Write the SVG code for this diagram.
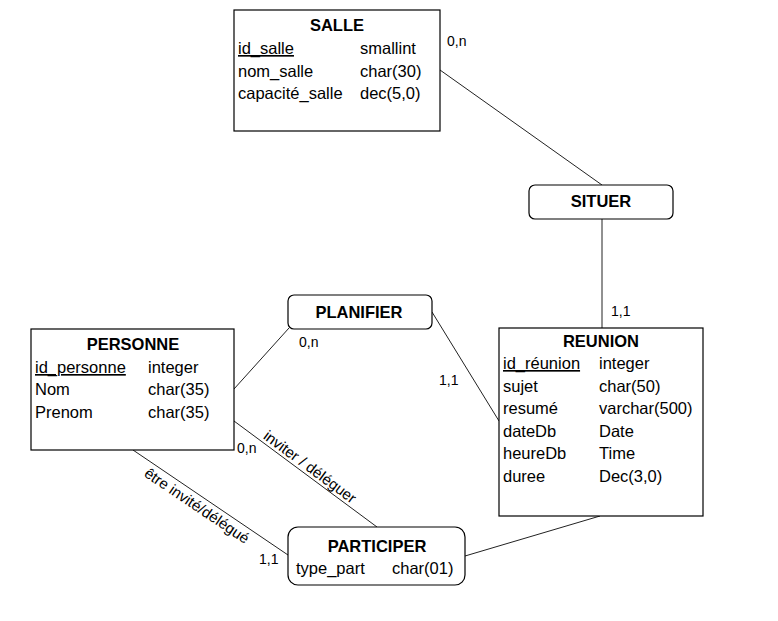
<svg xmlns="http://www.w3.org/2000/svg" width="778" height="621" viewBox="0 0 778 621">
<style>
  .box { fill: #fff; stroke: #000; stroke-width: 1.2; }
  .t { font-family: "Liberation Sans", Arial, sans-serif; font-size: 16.5px; fill: #000; }
  .h { font-family: "Liberation Sans", Arial, sans-serif; font-size: 16.5px; font-weight: bold; fill: #000; text-anchor: middle; }
  .c { font-family: "Liberation Sans", Arial, sans-serif; font-size: 14px; fill: #000; }
  .r { font-family: "Liberation Sans", Arial, sans-serif; font-size: 15px; fill: #000; text-anchor: middle; }
  .u { text-decoration: underline; }
  .ln { stroke: #222; stroke-width: 1; fill: none; }
</style>
<rect width="778" height="621" fill="#fff"/>

<g id="connectors">
  <line class="ln" x1="440" y1="70" x2="602" y2="185"/>
  <line class="ln" x1="602" y1="219" x2="602" y2="328"/>
  <line class="ln" x1="234" y1="389" x2="289" y2="328"/>
  <line class="ln" x1="432" y1="312" x2="499" y2="421"/>
  <line class="ln" x1="234" y1="421" x2="377" y2="527"/>
  <line class="ln" x1="133" y1="450" x2="288" y2="555"/>
  <line class="ln" x1="465" y1="556" x2="600" y2="516"/>
  <text class="c" x="447" y="46">0,n</text>
  <text class="c" x="611" y="316">1,1</text>
  <text class="c" x="299" y="347">0,n</text>
  <text class="c" x="439" y="385">1,1</text>
  <text class="c" x="237" y="453">0,n</text>
  <text class="c" x="259" y="564">1,1</text>
  <text class="r" transform="translate(307,471) rotate(36.5)">inviter / déléguer</text>
  <text class="r" transform="translate(194,510) rotate(34)">être invité/délégué</text>
</g>

<g id="salle">
  <rect class="box" x="234" y="10" width="206" height="121"/>
  <text class="h" x="337" y="31">SALLE</text>
  <text class="t u" x="238" y="54">id_salle</text>
  <text class="t" x="360" y="54">smallint</text>
  <text class="t" x="238" y="77">nom_salle</text>
  <text class="t" x="360" y="77">char(30)</text>
  <text class="t" x="238" y="99">capacité_salle</text>
  <text class="t" x="360" y="99">dec(5,0)</text>
</g>

<g id="situer">
  <rect class="box" x="529" y="185" width="144" height="34" rx="6"/>
  <text class="h" x="601" y="207">SITUER</text>
</g>

<g id="planifier">
  <rect class="box" x="288" y="295" width="144" height="34" rx="6"/>
  <text class="h" x="359" y="318">PLANIFIER</text>
</g>

<g id="personne">
  <rect class="box" x="31" y="329" width="203" height="121"/>
  <text class="h" x="133" y="350">PERSONNE</text>
  <text class="t u" x="35" y="373">id_personne</text>
  <text class="t" x="148" y="373">integer</text>
  <text class="t" x="35" y="395">Nom</text>
  <text class="t" x="148" y="395">char(35)</text>
  <text class="t" x="35" y="418">Prenom</text>
  <text class="t" x="148" y="418">char(35)</text>
</g>

<g id="reunion">
  <rect class="box" x="499" y="328" width="204" height="188"/>
  <text class="h" x="601" y="347">REUNION</text>
  <text class="t u" x="503" y="369">id_réunion</text>
  <text class="t" x="599" y="369">integer</text>
  <text class="t" x="503" y="392">sujet</text>
  <text class="t" x="599" y="392">char(50)</text>
  <text class="t" x="503" y="414">resumé</text>
  <text class="t" x="599" y="414">varchar(500)</text>
  <text class="t" x="503" y="437">dateDb</text>
  <text class="t" x="599" y="437">Date</text>
  <text class="t" x="503" y="459">heureDb</text>
  <text class="t" x="599" y="459">Time</text>
  <text class="t" x="503" y="482">duree</text>
  <text class="t" x="599" y="482">Dec(3,0)</text>
</g>

<g id="participer">
  <rect class="box" x="288" y="527" width="177" height="58" rx="10"/>
  <text class="h" x="377" y="552">PARTICIPER</text>
  <text class="t" x="296" y="574">type_part</text>
  <text class="t" x="392" y="574">char(01)</text>
</g>
</svg>
